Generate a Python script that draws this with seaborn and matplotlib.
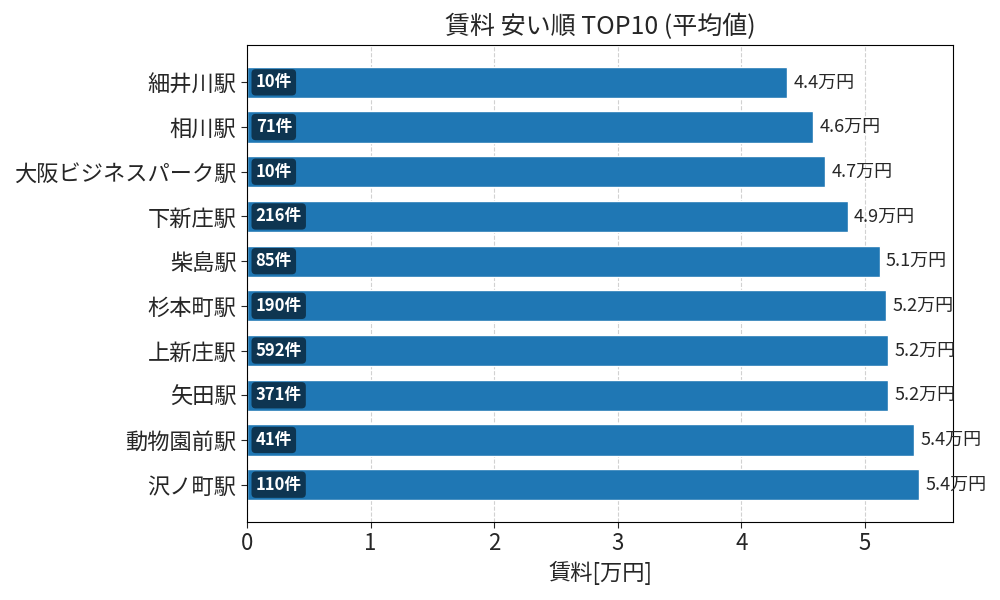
import matplotlib
matplotlib.use("Agg")
import matplotlib.pyplot as plt
import pandas as pd
import seaborn as sns

# Data
stations = ["細井川駅", "相川駅", "大阪ビジネスパーク駅", "下新庄駅", "柴島駅",
            "杉本町駅", "上新庄駅", "矢田駅", "動物園前駅", "沢ノ町駅"]
rent_mean = [4.37, 4.58, 4.68, 4.86, 5.12, 5.17, 5.19, 5.19, 5.40, 5.44]
counts = [10, 71, 10, 216, 85, 190, 592, 371, 41, 110]

df = pd.DataFrame({"station": stations, "rent": rent_mean, "count": counts})

sns.set_style("white")
plt.rcParams["font.family"] = ["Noto Sans CJK JP", "DejaVu Sans"]

fig, ax = plt.subplots(figsize=(10, 6), dpi=100)
sns.barplot(data=df, y="station", x="rent", orient="h", color="#1f77b4",
            saturation=1, width=0.7, ax=ax)

for i, row in df.iterrows():
    ax.text(row["rent"] + 0.05, i, f"{row['rent']:.1f}万円",
            va="center", ha="left", fontsize=13)
    ax.text(0.07, i, f"{row['count']}件", va="center", ha="left",
            fontsize=12, fontweight="bold", color="white",
            bbox=dict(boxstyle="round,pad=0.25", facecolor="black",
                      alpha=0.55, edgecolor="none"))

ax.set_xlim(0, df["rent"].max() * 1.05)
ax.set_ylim(len(df) - 1 + 0.835, -0.835)
ax.set_title("賃料 安い順 TOP10 (平均値)", fontsize=18, pad=8)
ax.set_xlabel("賃料[万円]", fontsize=16)
ax.set_ylabel("")
ax.tick_params(axis="y", labelsize=16, length=4, left=True)
ax.tick_params(axis="x", labelsize=16, length=4, bottom=True)
ax.grid(axis="x", linestyle="--", color="#cccccc", alpha=0.9)
ax.set_axisbelow(True)
for s in ax.spines.values():
    s.set_color("black")

plt.subplots_adjust(left=0.247, right=0.953, top=0.925, bottom=0.13)
plt.savefig("out.png", dpi=100)
